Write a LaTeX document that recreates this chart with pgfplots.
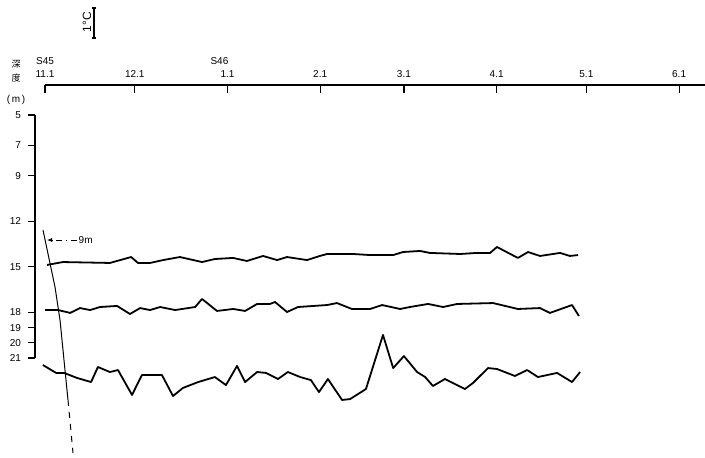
\documentclass[border=0pt]{standalone}
\usepackage{pgfplots}
\pgfplotsset{compat=1.18}
\usepackage{fontspec}
\setmainfont{Liberation Sans}
\newfontfamily\cjk{Noto Sans CJK JP}
\usetikzlibrary{arrows.meta}

% x: days after 1 Nov (S45), y: depth scale (m)
\pgfplotstableread{
day depth
0.7 14.87
6.0 14.68
21.7 14.74
28.8 14.35
31.1 14.74
35.1 14.74
39.5 14.55
45.1 14.35
52.5 14.68
56.8 14.48
62.9 14.41
67.5 14.61
72.9 14.28
77.6 14.55
80.9 14.35
87.6 14.55
91.9 14.28
94.3 14.15
103.0 14.15
108.7 14.22
116.4 14.22
119.7 14.02
125.4 13.95
128.7 14.08
138.8 14.15
144.4 14.08
148.8 14.08
151.1 13.69
158.1 14.41
161.5 14.02
165.5 14.28
172.2 14.08
175.5 14.28
178.2 14.22
}\dfifteen

\pgfplotstableread{
day depth
0.0 17.84
4.4 17.84
8.4 18.03
11.7 17.71
15.1 17.84
18.4 17.64
24.1 17.57
28.4 18.10
31.8 17.71
35.1 17.84
38.5 17.64
43.5 17.84
50.2 17.64
52.5 17.11
57.5 17.90
62.9 17.77
66.9 17.90
70.9 17.44
75.2 17.44
76.9 17.31
80.9 17.97
84.6 17.64
94.3 17.51
97.6 17.38
102.6 17.77
108.7 17.77
112.7 17.51
118.7 17.77
122.0 17.64
128.1 17.44
133.1 17.64
137.8 17.44
149.8 17.38
158.1 17.77
165.5 17.71
168.8 18.03
176.2 17.51
178.5 18.23
}\deighteen

\pgfplotstableread{
day depth
-0.7 21.46
3.7 21.98
6.4 21.98
10.7 22.31
15.4 22.58
17.7 21.59
21.7 21.92
24.4 21.79
29.1 23.43
32.4 22.12
39.1 22.12
42.8 23.50
46.1 22.97
51.2 22.58
56.8 22.25
60.5 22.78
64.2 21.52
66.9 22.58
70.9 21.92
73.9 21.98
77.9 22.38
81.2 21.92
85.3 22.25
88.9 22.45
91.6 23.24
94.6 22.38
99.3 23.76
102.0 23.70
107.3 23.04
113.0 19.48
116.4 21.66
120.0 20.87
124.4 21.92
127.1 22.25
129.7 22.84
133.7 22.38
140.4 23.04
143.1 22.64
148.1 21.66
151.1 21.72
157.1 22.18
161.2 21.79
164.8 22.25
171.2 21.98
176.2 22.58
178.9 21.92
}\dtwentyone

\begin{document}
\begin{tikzpicture}[font=\fontsize{5}{6.5}\selectfont]
\path[use as bounding box] (0,0) rectangle (352.5pt,229pt);

\begin{axis}[
  at={(22.5pt,186.5pt)}, anchor=north west,
  scale only axis, width=330pt, height=186.5pt,
  xmin=0, xmax=220.66, ymin=3.025, ymax=27.58,
  y dir=reverse,
  axis x line*=top, axis y line=none,
  axis line style={line width=0.7pt, -},
  xtick={0,30,61,92,120,151,181,212},
  xticklabels={{S45\\11.1},12.1,{S46\hspace*{8pt}\\1.1},2.1,3.1,4.1,5.1,6.1},
  xticklabel style={align=center, font=\fontsize{5}{6.5}\selectfont},
  tick align=inside, major tick length=4pt,
  tick style={line width=0.6pt, black},
  clip=false,
]
\addplot[black, line width=0.9pt, line join=round] table[x=day, y=depth] {\dfifteen};
\addplot[black, line width=0.9pt, line join=round] table[x=day, y=depth] {\deighteen};
\addplot[black, line width=0.9pt, line join=round] table[x=day, y=depth] {\dtwentyone};
% sloping marker line
\addplot[black, line width=0.5pt] coordinates {
  (-0.67,12.57) (3.34,16.32) (5.02,18.50) (7.02,22.45) (7.69,23.76)};
\addplot[black, line width=0.5pt, dashed] coordinates {
  (7.69,23.76) (9.36,27.25)};
\draw[line width=0.4pt, dash dot, -{Latex[length=2.5pt,width=2pt]}]
  (axis cs:10.7,13.23) -- (axis cs:0.67,13.23);
\node[anchor=west, inner sep=0.5pt] at (axis cs:10.8,13.23) {9m};
\end{axis}

\begin{axis}[
  at={(17.5pt,171.5pt)}, anchor=north west,
  scale only axis, width=1pt, height=121.5pt,
  xmin=0, xmax=1, ymin=5, ymax=21,
  y dir=reverse,
  axis y line*=left, axis x line=none,
  axis line style={line width=0.7pt, -},
  ytick={5,7,9,12,15,18,19,20,21},
  tick align=outside, major tick length=3.5pt,
  tick style={line width=0.6pt, black},
  yticklabel style={font=\fontsize{5}{6.5}\selectfont},
  /pgf/number format/assume math mode=true,
]
\end{axis}

% header: depth label and scale bar
\node[font=\cjk\fontsize{4.5}{5}\selectfont, inner sep=0pt] at (8pt,197pt) {深};
\node[font=\cjk\fontsize{4.5}{5}\selectfont, inner sep=0pt] at (8pt,190pt) {度};
\node[inner sep=0pt] at (8pt,179pt) {(\,m\,)};
\draw[line width=0.6pt] (47pt,225pt) -- (47pt,210pt);
\draw[line width=0.6pt] (45.8pt,225pt) -- (48.2pt,225pt);
\draw[line width=0.6pt] (45.8pt,210pt) -- (48.2pt,210pt);
\node[rotate=90, inner sep=0pt, font=\fontsize{6}{7}\selectfont] at (43.5pt,218pt) {1°C};
\end{tikzpicture}
\end{document}
